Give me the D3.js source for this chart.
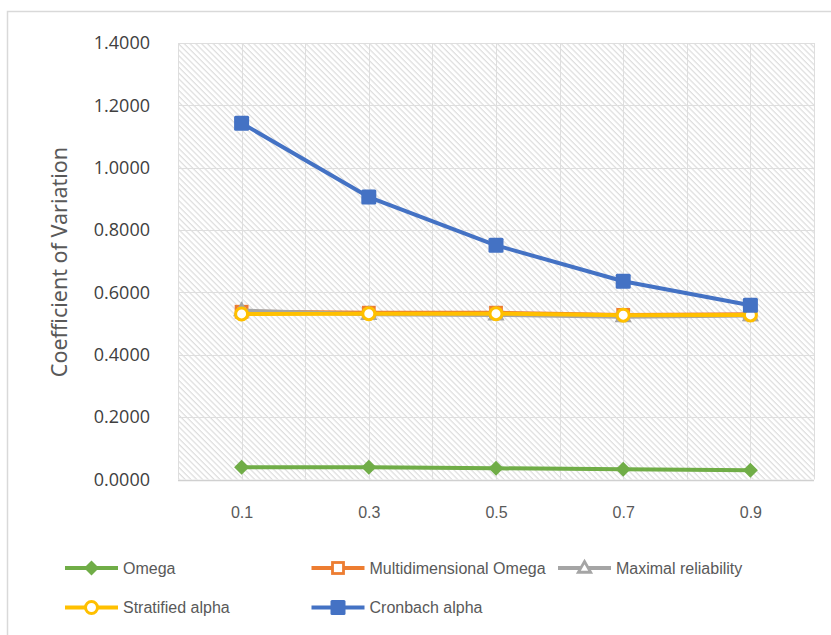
<!DOCTYPE html>
<html>
<head>
<meta charset="utf-8">
<script src="https://cdn.jsdelivr.net/npm/d3@7/dist/d3.min.js"></script>
<style>
  html, body { margin: 0; padding: 0; background: #ffffff; }
  svg { display: block; }
</style>
</head>
<body>
<svg id="chart" width="831" height="635"></svg>
<script>
// Loading factor levels on the x axis
const categories = ["0.1", "0.3", "0.5", "0.7", "0.9"];

// Coefficient of variation for each reliability estimator
const omega = [0.039, 0.039, 0.036, 0.033, 0.030];
const multidimensionalOmega = [0.538, 0.535, 0.535, 0.528, 0.530];
const maximalReliability = [0.542, 0.530, 0.528, 0.522, 0.526];
const stratifiedAlpha = [0.531, 0.532, 0.532, 0.527, 0.528];
const cronbachAlpha = [1.143, 0.906, 0.751, 0.636, 0.559];

const yTicks = [0, 0.2, 0.4, 0.6, 0.8, 1.0, 1.2, 1.4];

const series = [
  { name: "Omega", values: omega, color: "#70AD47", marker: "diamond" },
  { name: "Multidimensional Omega", values: multidimensionalOmega, color: "#ED7D31", marker: "squareOpen" },
  { name: "Maximal reliability", values: maximalReliability, color: "#A5A5A5", marker: "triangleOpen" },
  { name: "Stratified alpha", values: stratifiedAlpha, color: "#FFC000", marker: "circleOpen" },
  { name: "Cronbach alpha", values: cronbachAlpha, color: "#4472C4", marker: "square" }
];

const svg = d3.select("#chart");
const plot = { left: 178, right: 814, top: 43, bottom: 479.5 };

// Outer chart frame
svg.append("rect")
  .attr("x", 7.5).attr("y", 11.5)
  .attr("width", 840).attr("height", 640)
  .attr("fill", "#ffffff")
  .attr("stroke", "#d9d9d9").attr("stroke-width", 1.5);

// Diagonal hatch fill for the plot area
const defs = svg.append("defs");
const pat = defs.append("pattern")
  .attr("id", "hatch")
  .attr("patternUnits", "userSpaceOnUse")
  .attr("width", 4.1).attr("height", 4.1)
  .attr("patternTransform", "rotate(-45)");
pat.append("rect").attr("width", 4.1).attr("height", 4.1).attr("fill", "#ffffff");
pat.append("line")
  .attr("x1", 1).attr("y1", 0).attr("x2", 1).attr("y2", 4.1)
  .attr("stroke", "#dadada").attr("stroke-width", 1.1);

svg.append("rect")
  .attr("x", plot.left).attr("y", plot.top)
  .attr("width", plot.right - plot.left).attr("height", plot.bottom - plot.top)
  .attr("fill", "url(#hatch)");

// Scales
const x = d3.scalePoint().domain(categories).range([plot.left, plot.right]).padding(0.5);
const xBand = d3.scaleBand().domain(categories).range([plot.left, plot.right]).padding(0);
const y = d3.scaleLinear().domain([0, 1.4]).range([plot.bottom, plot.top]);

// Gridlines
const grid = svg.append("g").attr("stroke", "#dedede").attr("stroke-width", 1);
grid.selectAll("line.h").data(yTicks).join("line")
  .attr("x1", plot.left).attr("x2", plot.right)
  .attr("y1", d => Math.round(y(d)) + 0.5).attr("y2", d => Math.round(y(d)) + 0.5);
const vLines = categories.map(c => x(c))
  .concat(categories.map(c => xBand(c)))
  .concat([plot.right]);
grid.selectAll("line.v").data(vLines).join("line")
  .attr("x1", d => Math.round(d) + 0.5).attr("x2", d => Math.round(d) + 0.5)
  .attr("y1", plot.top).attr("y2", plot.bottom);

// Bottom axis line
svg.append("line")
  .attr("x1", plot.left).attr("x2", plot.right)
  .attr("y1", plot.bottom + 1).attr("y2", plot.bottom + 1)
  .attr("stroke", "#d0d0d0").attr("stroke-width", 1.5);

// Y axis
const yAxis = svg.append("g")
  .attr("transform", `translate(${plot.left - 28},0)`)
  .call(d3.axisLeft(y).tickValues(yTicks).tickFormat(d3.format(".4f")).tickSize(0).tickPadding(0));
yAxis.select(".domain").remove();
yAxis.selectAll("text")
  .attr("fill", "#404040")
  .attr("font-family", "'Open Sans', 'Noto Sans', sans-serif")
  .attr("font-size", "18px");

// X axis
const xAxis = svg.append("g")
  .attr("transform", `translate(0,${plot.bottom + 27})`)
  .call(d3.axisBottom(x).tickSize(0).tickPadding(0));
xAxis.select(".domain").remove();
xAxis.selectAll("text")
  .attr("fill", "#595959")
  .attr("font-family", "'Liberation Sans Narrow', 'Liberation Sans', sans-serif")
  .attr("font-size", "16px");

// Y axis title
svg.append("text")
  .attr("transform", `translate(67,262) rotate(-90)`)
  .attr("text-anchor", "middle")
  .attr("fill", "#595959")
  .attr("font-family", "'Noto Sans', 'Open Sans', sans-serif")
  .attr("font-size", "21.5px")
  .text("Coefficient of Variation");

// Marker drawing
function drawMarker(g, type, color, cx, cy) {
  if (type === "diamond") {
    const r = 7.5;
    g.append("path")
      .attr("d", `M${cx},${cy - r}L${cx + r},${cy}L${cx},${cy + r}L${cx - r},${cy}Z`)
      .attr("fill", color);
  } else if (type === "square") {
    const h = 7.5;
    g.append("rect")
      .attr("x", cx - h).attr("y", cy - h).attr("width", 2 * h).attr("height", 2 * h)
      .attr("rx", 1.5).attr("fill", color);
  } else if (type === "squareOpen") {
    const h = 5.5;
    g.append("rect")
      .attr("x", cx - h).attr("y", cy - h).attr("width", 2 * h).attr("height", 2 * h)
      .attr("fill", "#ffffff").attr("stroke", color).attr("stroke-width", 2.8);
  } else if (type === "triangleOpen") {
    const r = 6.5;
    g.append("path")
      .attr("d", `M${cx},${cy - r}L${cx + r * 0.95},${cy + r * 0.65}L${cx - r * 0.95},${cy + r * 0.65}Z`)
      .attr("fill", "#ffffff").attr("stroke", color).attr("stroke-width", 2.8);
  } else if (type === "circleOpen") {
    g.append("circle")
      .attr("cx", cx).attr("cy", cy).attr("r", 6)
      .attr("fill", "#ffffff").attr("stroke", color).attr("stroke-width", 3);
  }
}

// Series lines and markers
const line = d3.line()
  .x((d, i) => x(categories[i]))
  .y(d => y(d));

series.forEach(s => {
  const g = svg.append("g");
  g.append("path")
    .datum(s.values)
    .attr("d", line)
    .attr("fill", "none")
    .attr("stroke", s.color)
    .attr("stroke-width", 4)
    .attr("stroke-linejoin", "round")
    .attr("stroke-linecap", "round");
  s.values.forEach((v, i) => drawMarker(g, s.marker, s.color, x(categories[i]), y(v)));
});

// Legend
const legendCols = [65, 311.5, 558];
const legendRows = [568, 607.5];
series.forEach((s, i) => {
  const lx = legendCols[i % 3];
  const ly = legendRows[Math.floor(i / 3)];
  const g = svg.append("g");
  g.append("line")
    .attr("x1", lx).attr("x2", lx + 53)
    .attr("y1", ly).attr("y2", ly)
    .attr("stroke", s.color).attr("stroke-width", 4);
  drawMarker(g, s.marker, s.color, lx + 26.5, ly);
  g.append("text")
    .attr("x", lx + 58).attr("y", ly)
    .attr("dy", "0.36em")
    .attr("fill", "#595959")
    .attr("font-family", "'Liberation Sans Narrow', 'Liberation Sans', sans-serif")
    .attr("font-size", "16px")
    .text(s.name);
});
</script>
</body>
</html>
